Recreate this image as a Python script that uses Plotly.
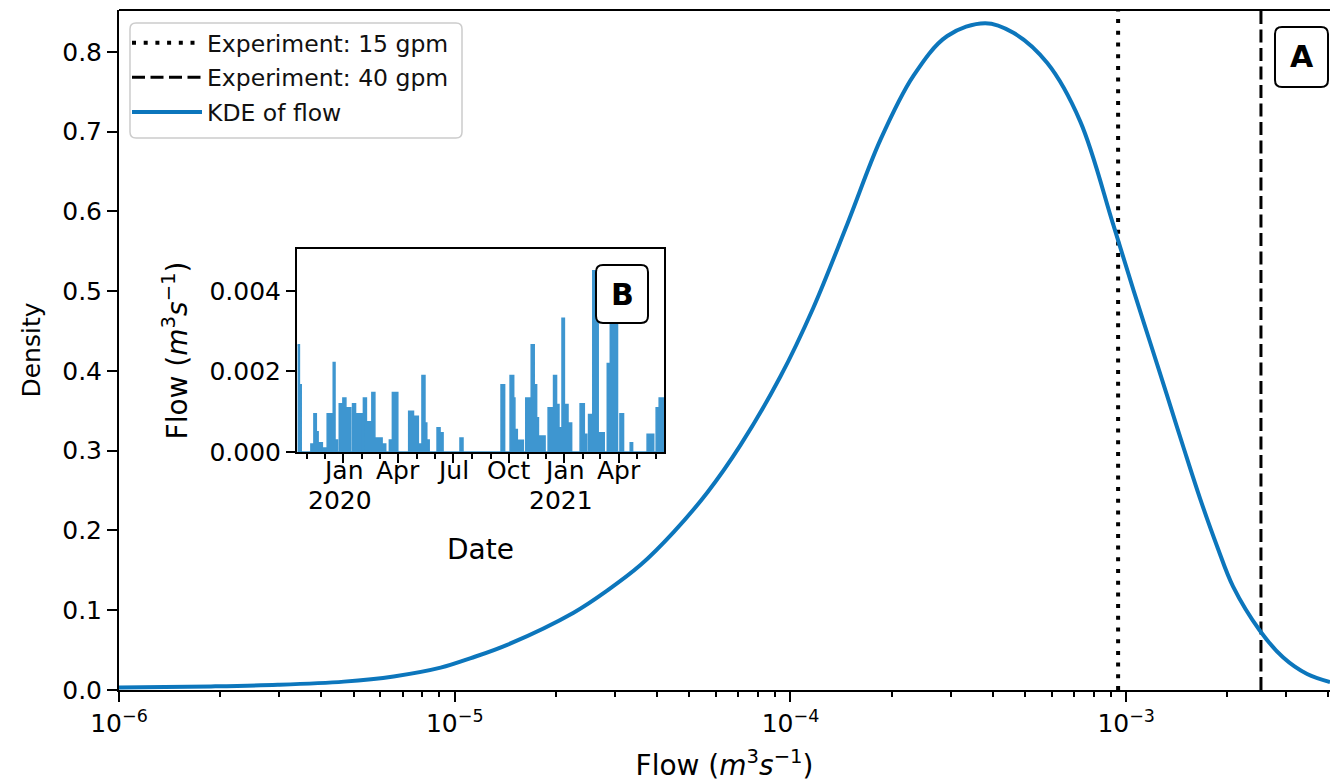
import math
import plotly.graph_objects as go

# ---------------- data ----------------
kde_flow = [1.000e-6, 1.879e-6, 2.972e-6, 4.677e-6, 6.577e-6, 9.078e-6, 1.117e-5, 1.439e-5,
            2.259e-5, 2.851e-5, 3.581e-5, 4.487e-5, 5.662e-5, 7.096e-5, 9.333e-5, 1.169e-4,
            1.479e-4, 1.854e-4, 2.323e-4, 2.931e-4, 3.802e-4, 4.613e-4, 5.821e-4, 7.295e-4,
            9.141e-4, 1.050e-3, 1.178e-3, 1.324e-3, 1.479e-3, 1.660e-3, 1.866e-3, 2.080e-3,
            2.506e-3, 2.931e-3, 3.459e-3, 4.046e-3]
kde_density = [0.003, 0.0045, 0.0065, 0.0105, 0.017, 0.028, 0.040, 0.057,
               0.097, 0.125, 0.157, 0.198, 0.248, 0.307, 0.393, 0.479,
               0.585, 0.690, 0.770, 0.820, 0.836, 0.824, 0.786, 0.713,
               0.584, 0.502, 0.436, 0.369, 0.305, 0.240, 0.180, 0.130,
               0.074, 0.041, 0.020, 0.010]

exp_15gpm = 9.46e-4   # m3/s
exp_40gpm = 2.52e-3   # m3/s

flow_dates = [
    "2019-10-17", "2019-10-20", "2019-10-23",
    "2019-11-08", "2019-11-13", "2019-11-17", "2019-11-20", "2019-11-27",
    "2019-11-29", "2019-12-05", "2019-12-15", "2019-12-18", "2019-12-22",
    "2019-12-25", "2019-12-31", "2020-01-05", "2020-01-13",
    "2020-01-16", "2020-01-21", "2020-02-01",
    "2020-02-03", "2020-02-08", "2020-02-17", "2020-02-22", "2020-03-05", "2020-03-11",
    "2020-03-17", "2020-03-22", "2020-03-31",
    "2020-04-18", "2020-04-26", "2020-05-04", "2020-05-10", "2020-05-15", "2020-05-18", "2020-05-22",
    "2020-06-04", "2020-06-09", "2020-06-14",
    "2020-07-12", "2020-07-17",
    "2020-09-18", "2020-09-24",
    "2020-10-03", "2020-10-09", "2020-10-11", "2020-10-15", "2020-10-25",
    "2020-10-29", "2020-11-07", "2020-11-12", "2020-11-16", "2020-11-19", "2020-11-30",
    "2020-12-05", "2020-12-14", "2020-12-19", "2020-12-23", "2020-12-28", "2021-01-01", "2021-01-07", "2021-01-13",
    "2021-01-27", "2021-02-03", "2021-02-07",
    "2021-02-10", "2021-02-17", "2021-02-26", "2021-03-08",
    "2021-03-13", "2021-03-18", "2021-03-30",
    "2021-04-03", "2021-04-09",
    "2021-04-20", "2021-04-24",
    "2021-05-18", "2021-05-29",
    "2021-06-02", "2021-06-07", "2021-06-15",
]
flow_values = [
    0.00266, 0.00167, 0.0,
    0.0002, 0.00095, 0.0005, 0.00023, 0.0,
    0.0001, 0.00095, 0.00222, 0.0003, 0.0,
    0.0012, 0.00134, 0.0011, 0.0,
    0.0012, 0.00095, 0.0,
    0.00134, 0.00075, 0.00148, 0.00035, 0.0002, 0.0,
    0.0003, 0.00148, 0.0,
    0.00101, 0.00089, 0.0002, 0.0019, 0.00072, 0.0003, 0.0,
    0.0006, 0.00048, 0.0,
    0.00035, 0.0,
    0.00167, 0.0,
    0.0019, 0.00134, 0.00056, 0.00029, 0.0,
    0.00134, 0.00266, 0.00167, 0.00085, 0.0004, 0.0,
    0.0011, 0.0019, 0.00118, 0.0006, 0.00332, 0.00118, 0.00072, 0.0,
    0.0012, 0.00044, 0.0,
    0.00093, 0.0045, 0.00048, 0.0,
    0.0022, 0.0044, 0.0,
    0.00095, 0.0,
    0.00023, 0.0,
    0.00044, 0.0,
    0.0011, 0.00134, 0.00134,
]

main_xticks = [1e-6, 1e-5, 1e-4, 1e-3]
main_xticktext = ["10<sup>\u22126</sup>", "10<sup>\u22125</sup>", "10<sup>\u22124</sup>", "10<sup>\u22123</sup>"]
main_yticks = [0.0, 0.1, 0.2, 0.3, 0.4, 0.5, 0.6, 0.7, 0.8]
inset_xticks = ["2020-01-01", "2020-04-01", "2020-07-01", "2020-10-01", "2021-01-01", "2021-04-01"]
inset_month_labels = ["Jan", "Apr", "Jul", "Oct", "Jan", "Apr"]
inset_year_ticks = ["2020-01-01", "2021-01-01"]
inset_year_labels = ["2020", "2021"]
inset_yticks = [0.0, 0.002, 0.004]
inset_yticktext = ["0.000", "0.002", "0.004"]

# ---------------- geometry ----------------
W, H = 1330, 784
ML, MR, MT, MB = 119, 0, 10, 94
PW, PH = W - ML - MR, H - MT - MB
YMAX = 0.8526
XMAX = 4.046e-3

FONT = "DejaVu Sans"
KDE_COLOR = "#0c76bc"
FLOW_COLOR = "#3e96d0"


def px(x, y):
    return (x - ML) / PW, (H - MB - y) / PH


def rounded_rect(x0, y0, x1, y1, r):
    def P(x, y):
        a, b = px(x, y)
        return f"{a:.5f},{b:.5f}"
    return (f"M{P(x0 + r, y0)} L{P(x1 - r, y0)} Q{P(x1, y0)} {P(x1, y0 + r)} "
            f"L{P(x1, y1 - r)} Q{P(x1, y1)} {P(x1 - r, y1)} "
            f"L{P(x0 + r, y1)} Q{P(x0, y1)} {P(x0, y1 - r)} "
            f"L{P(x0, y0 + r)} Q{P(x0, y0)} {P(x0 + r, y0)} Z")


fig = go.Figure()

fig.add_trace(go.Scatter(
    x=[exp_15gpm, exp_15gpm], y=[0, YMAX], mode="lines",
    line=dict(color="black", width=4, dash="4px,7.7px"),
    name="Experiment: 15 gpm", legendgroup="a"))
fig.add_trace(go.Scatter(
    x=[exp_40gpm, exp_40gpm], y=[0, YMAX], mode="lines",
    line=dict(color="black", width=3, dash="13px,5.5px"),
    name="Experiment: 40 gpm", legendgroup="b"))
fig.add_trace(go.Scatter(
    x=kde_flow, y=kde_density, mode="lines",
    line=dict(color=KDE_COLOR, width=4, shape="spline", smoothing=1.0),
    name="KDE of flow", legendgroup="c"))

fig.add_trace(go.Scatter(
    x=flow_dates, y=flow_values, mode="lines",
    line=dict(color=FLOW_COLOR, width=1.5, shape="hv"),
    fill="tozeroy", fillcolor=FLOW_COLOR,
    xaxis="x2", yaxis="y2", showlegend=False))

minor_x = [m * 10 ** e for e in range(-6, -2) for m in range(2, 10) if m * 10 ** e < XMAX]

axis_common = dict(showline=True, linecolor="black", linewidth=2, ticks="outside",
                   tickcolor="black", tickwidth=2, showgrid=False, zeroline=False,
                   tickfont=dict(family=FONT, size=25, color="black"))

annotations = [
    dict(xref="paper", yref="paper", x=px(1301.5, 57)[0], y=px(1301.5, 57)[1],
         text="<b>A</b>", showarrow=False, xanchor="center", yanchor="middle",
         font=dict(family=FONT, size=30, color="black")),
    dict(xref="paper", yref="paper", x=px(622, 294)[0], y=px(622, 294)[1],
         text="<b>B</b>", showarrow=False, xanchor="center", yanchor="middle",
         font=dict(family=FONT, size=30, color="black")),
]
for d, lab in zip(inset_xticks, inset_month_labels):
    annotations.append(dict(xref="x2", yref="paper", x=d, y=px(0, 470)[1], text=lab,
                            showarrow=False, xanchor="center", yanchor="middle",
                            font=dict(family=FONT, size=25, color="black")))
for d, lab in zip(inset_year_ticks, inset_year_labels):
    annotations.append(dict(xref="x2", yref="paper", x=d, y=px(0, 500)[1], text=lab,
                            showarrow=False, xanchor="center", yanchor="middle", xshift=-3,
                            font=dict(family=FONT, size=25, color="black")))

fig.update_layout(
    width=W, height=H,
    margin=dict(l=ML, r=MR, t=MT, b=MB),
    paper_bgcolor="white", plot_bgcolor="white",
    font=dict(family=FONT, color="black"),
    xaxis=dict(type="log", range=[-6, math.log10(XMAX)], tickvals=main_xticks,
               ticktext=main_xticktext, ticklen=10,
               minor=dict(tickvals=minor_x, ticklen=5, tickwidth=1.5, ticks="outside", tickcolor="black"),
               title=dict(text="Flow (<i>m</i><sup>3</sup><i>s</i><sup>\u22121</sup>)",
                          font=dict(family=FONT, size=28), standoff=18),
               **axis_common),
    yaxis=dict(range=[0, YMAX], tickvals=main_yticks, tickformat=".1f", ticklen=10,
               title=dict(text="Density", font=dict(family=FONT, size=25), standoff=14),
               **axis_common),
    xaxis2=dict(domain=[(297 - ML) / PW, (664 - ML) / PW], anchor="y2", type="date",
                range=["2019-10-16", "2021-06-15"], tickvals=inset_xticks,
                showticklabels=False, ticklen=9, mirror=True,
                minor=dict(dtick="M1", tick0="2019-11-01", ticklen=5, tickwidth=1.5, ticks="outside",
                           tickcolor="black", showgrid=False),
                title=dict(text="Date", font=dict(family=FONT, size=28), standoff=77),
                **axis_common),
    yaxis2=dict(domain=[(690 - 452) / PH, (690 - 249) / PH], anchor="x2",
                range=[0, 0.00504], tickvals=inset_yticks, ticktext=inset_yticktext,
                ticklen=9, mirror=True,
                title=dict(text="Flow (<i>m</i><sup>3</sup><i>s</i><sup>\u22121</sup>)",
                           font=dict(family=FONT, size=28), standoff=14),
                **axis_common),
    legend=dict(x=(127 - ML) / PW, y=(690 - 21) / PH, xanchor="left", yanchor="top",
                bgcolor="rgba(0,0,0,0)", borderwidth=0, itemwidth=70, tracegroupgap=1,
                font=dict(family=FONT, size=23.5, color="#111")),
    shapes=[
        dict(type="line", xref="paper", yref="paper", x0=0, x1=1, y0=1, y1=1,
             line=dict(color="black", width=2)),
        dict(type="path", xref="paper", yref="paper", path=rounded_rect(130, 23, 462, 138, 6),
             fillcolor="rgba(255,255,255,0.8)", line=dict(color="#cccccc", width=1.5), layer="below"),
        dict(type="path", xref="paper", yref="paper", path=rounded_rect(1275, 27, 1328, 87, 7),
             fillcolor="white", line=dict(color="black", width=2), layer="above"),
        dict(type="path", xref="paper", yref="paper", path=rounded_rect(596, 265, 648, 323, 7),
             fillcolor="white", line=dict(color="black", width=2), layer="above"),
    ],
    annotations=annotations,
)

fig.write_html("out.html")
